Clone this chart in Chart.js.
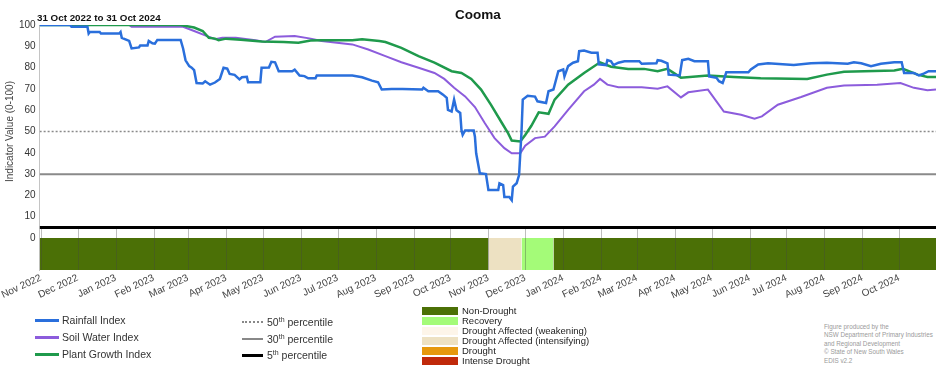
<!DOCTYPE html>
<html>
<head>
<meta charset="utf-8">
<script src="https://cdn.jsdelivr.net/npm/chart.js@4.4.1/dist/chart.umd.min.js"></script>
<style>
  body { margin: 0; background: #fff; font-family: "Liberation Sans", Arial, sans-serif; }
  #wrap { position: relative; width: 952px; height: 370px; overflow: hidden; }
  #chart { position: absolute; left: 0; top: 0; }
  .title { position: absolute; top: 7px; left: 0; width: 956px; text-align: center; font-weight: bold; font-size: 13.5px; color: #111; }
  .sub { position: absolute; top: 12px; left: 37px; font-weight: bold; font-size: 9.8px; color: #111; }
  .leg { position: absolute; font-size: 10.5px; color: #333; }
  .leg .row { position: absolute; left: 0; white-space: nowrap; height: 14px; line-height: 14px; }
  .leg .swatch { position: absolute; left: 0; top: 6px; width: 24px; height: 0; }
  .leg .row span { position: absolute; left: 27px; top: 0; }
  .leg sup { font-size: 7px; line-height: 0; }
  .dleg { position: absolute; left: 422px; top: 306px; font-size: 9.5px; color: #222; }
  .dleg .row { position: absolute; left: 0; height: 10px; line-height: 10px; white-space: nowrap; }
  .dleg .box { position: absolute; left: 0; top: 1px; width: 36px; height: 8px; }
  .dleg .row span { position: absolute; left: 40px; top: 0; }
  .foot { position: absolute; left: 824px; top: 323px; font-size: 6.3px; line-height: 8.4px; color: #9a9a9a; }
</style>
</head>
<body>
<div id="wrap">
  <canvas id="chart" width="952" height="310"></canvas>
  <div class="title">Cooma</div>
  <div class="sub">31 Oct 2022 to 31 Oct 2024</div>

  <div class="leg" style="left:35px; top:313px;">
    <div class="row" style="top:0"><i class="swatch" style="border-top:3px solid #2a6fdc"></i><span>Rainfall Index</span></div>
    <div class="row" style="top:17px"><i class="swatch" style="border-top:3px solid #8c5cdc"></i><span>Soil Water Index</span></div>
    <div class="row" style="top:34px"><i class="swatch" style="border-top:3px solid #1f9a4c"></i><span>Plant Growth Index</span></div>
  </div>
  <div class="leg" style="left:242px; top:315px;">
    <div class="row" style="top:0"><i class="swatch" style="width:21px;border-top:2px dotted #888"></i><span style="left:25px">50<sup>th</sup> percentile</span></div>
    <div class="row" style="top:17px"><i class="swatch" style="width:21px;border-top:2.5px solid #888"></i><span style="left:25px">30<sup>th</sup> percentile</span></div>
    <div class="row" style="top:33px"><i class="swatch" style="width:21px;border-top:3px solid #000"></i><span style="left:25px">5<sup>th</sup> percentile</span></div>
  </div>
  <div class="dleg" id="dleg"></div>
  <div class="foot">Figure produced by the<br>NSW Department of Primary Industries<br>and Regional Development<br>© State of New South Wales<br>EDIS v2.2</div>
</div>

<script>
// days counted from 31 Oct 2022 (day 0) to 31 Oct 2024 (day 731)
const startDate = Date.UTC(2022, 9, 31);
const endDay = 731;

const monthLabels = [
  "Nov 2022","Dec 2022","Jan 2023","Feb 2023","Mar 2023","Apr 2023","May 2023","Jun 2023",
  "Jul 2023","Aug 2023","Sep 2023","Oct 2023","Nov 2023","Dec 2023","Jan 2024","Feb 2024",
  "Mar 2024","Apr 2024","May 2024","Jun 2024","Jul 2024","Aug 2024","Sep 2024","Oct 2024"
];
const yTicks = [0, 10, 20, 30, 40, 50, 60, 70, 80, 90, 100];

// Rainfall Index
const rainDays = [0, 25, 26, 39, 40, 41, 49, 50, 65, 66, 67, 71, 73, 75, 81, 82, 88, 89, 92, 94, 96, 115, 117, 119,
  122, 124, 126, 128, 133, 135, 139, 143, 147, 150, 153, 155, 159, 163, 165, 169, 170, 180, 181, 187, 189, 192,
  195, 206, 208, 212, 216, 219, 225, 226, 249, 255, 263, 271, 276, 279, 287, 296, 312, 313, 317, 325, 329, 332,
  333, 336, 338, 340, 343, 344, 345, 347, 354, 355, 356, 359, 364, 366, 374, 375, 378, 379, 383, 385, 386, 389,
  391, 393, 394, 398, 404, 406, 413, 415, 419, 423, 427, 428, 431, 435, 439, 440, 444, 450, 455, 456, 462, 463,
  466, 468, 472, 477, 489, 491, 503, 504, 507, 512, 513, 522, 524, 529, 534, 545, 546, 552, 554, 557, 558, 560,
  578, 580, 586, 594, 615, 629, 642, 659, 664, 670, 678, 686, 697, 703, 705, 713, 717, 721, 725, 731];
const rainValues = [100, 100, 99.2, 99.2, 96, 96.7, 96.7, 96, 96, 96.7, 94, 93, 92.5, 89, 89.5, 90.4, 90.4, 92.5, 91.4, 91.2, 93, 93, 89, 83.4,
  80.7, 80, 78.8, 72.8, 72.6, 73.6, 72, 73, 74.7, 79.9, 79.5, 77, 76.6, 74.5, 75.5, 75.7, 73.1, 73.1, 79.9, 80, 82.7, 82.5,
  78.3, 78.3, 79, 76.3, 76, 75, 75, 76.3, 76.3, 76.3, 75.5, 73.9, 73.1, 69.7, 70, 70, 69.7, 70.5, 68.9, 68.9, 67.3, 65.8,
  60.2, 59.4, 65, 60, 58.7, 50.8, 48.4, 50.5, 50.5, 47.6, 39.8, 30.4, 30, 22.5, 22.5, 25.7, 24.9, 19.3, 19.3, 17.8, 24.1, 25.7,
  29.6, 50, 65, 66.8, 66.4, 64.2, 63.4, 68.9, 69.7, 78.3, 79.1, 75.9, 80.7, 82.3, 83, 87.7, 88, 87, 87, 81.5, 81.2, 83.5,
  83, 81.2, 82.3, 83, 83, 81.8, 82, 83.5, 83.2, 82, 76.7, 76.3, 83.5, 84.1, 83, 83, 75.9, 75.2, 73.6, 72.8, 74.4, 77.8,
  77.8, 79.1, 81.5, 82, 81.2, 82, 82.3, 81.8, 82.5, 82, 80.7, 81.8, 82.5, 82.5, 77.5, 77.5, 76.3, 77.2, 78.3, 78.3];

// Soil Water Index
const soilDays = [0, 73, 75, 117, 126, 135, 143, 149, 160, 176, 184, 192, 208, 221, 230, 255, 268, 282, 295, 309,
  322, 330, 338, 347, 355, 363, 371, 379, 385, 392, 396, 404, 412, 420, 431, 444, 452, 457, 463, 472, 491, 504,
  512, 523, 529, 545, 558, 572, 583, 589, 602, 621, 642, 656, 683, 702, 713, 724, 731];
const soilValues = [100, 100, 99.2, 99.2, 97.2, 95.1, 93.3, 94, 94, 92.9, 92, 94.5, 94.8, 93.6, 92.5, 90.9, 88.5, 85.4, 82.5, 79.9,
  77.5, 74.7, 70.5, 66.5, 61.5, 54, 46.9, 42.2, 39.8, 39.8, 43.3, 46.9, 47.6, 52.4, 60.2, 68.9, 72, 74.7, 72, 70.8, 70.8, 70.1,
  71.2, 66, 68.4, 69.7, 59.4, 57.9, 56, 57.1, 62.6, 66.2, 70.5, 71.6, 72, 72.8, 70.5, 69.4, 69.7];

// Plant Growth Index
const plantDays = [0, 115, 126, 133, 138, 143, 146, 152, 164, 181, 199, 211, 221, 230, 255, 263, 277, 282, 295, 309,
  322, 336, 344, 352, 360, 368, 377, 382, 385, 392, 396, 401, 407, 415, 420, 431, 444, 457, 466, 480, 493, 504,
  512, 523, 545, 566, 588, 626, 642, 656, 697, 704, 716, 724, 731];
const plantValues = [100, 100, 98.8, 97.2, 94, 93.6, 92.9, 93.6, 93.1, 92.3, 92, 91.7, 92.7, 92.8, 92.8, 93.3, 92.5, 92, 89.3, 85.4,
  82.3, 78.3, 77.5, 74.7, 69.7, 62.6, 54, 49.2, 45.8, 45.3, 48.4, 52.7, 59, 58.3, 65, 72, 77.5, 82.5, 80.4, 79.4, 79.4, 78.3,
  79.4, 75.3, 76.3, 75.6, 75, 74.7, 76.7, 78, 78.6, 79.4, 76.7, 75.6, 75.6];

// percentile reference lines
const percentileNames = ["50th percentile", "30th percentile", "5th percentile"];
const percentileValues = [50, 30, 5];

// drought category band
const droughtCategories = ["Non-Drought", "Recovery", "Drought Affected (weakening)",
  "Drought Affected (intensifying)", "Drought", "Intense Drought"];
const droughtColors = ["#4b7006", "#a4fb78", "#fdf5e9", "#ede1c2", "#e6980c", "#c0290a"];
const bandStart = [0, 366, 393, 419];
const bandEnd = [366, 393, 419, 731];
const bandCategory = ["Non-Drought", "Drought Affected (intensifying)", "Recovery", "Non-Drought"];

// legend for drought categories
const dleg = document.getElementById("dleg");
droughtCategories.forEach((c, i) => {
  const row = document.createElement("div");
  row.className = "row";
  row.style.top = (i * 9.9) + "px";
  row.innerHTML = `<i class="box" style="background:${droughtColors[i]}"></i><span>${c}</span>`;
  dleg.appendChild(row);
});

const monthDays = monthLabels.map((_, i) => (Date.UTC(2022, 10 + i, 1) - startDate) / 86400000);
const pts = (xs, ys) => xs.map((x, i) => ({ x, y: ys[i] }));

const datasets = [
  { label: "Rainfall Index", data: pts(rainDays, rainValues), borderColor: "#2a6fdc", borderWidth: 2.5, order: 1 },
  { label: "Soil Water Index", data: pts(soilDays, soilValues), borderColor: "#8c5cdc", borderWidth: 2, order: 3 },
  { label: "Plant Growth Index", data: pts(plantDays, plantValues), borderColor: "#1f9a4c", borderWidth: 2.5, order: 2 },
];
const pctStyles = [
  { color: "#8a8a8a", width: 1.5, dash: [2, 2] },
  { color: "#8a8a8a", width: 2, dash: [] },
  { color: "#000000", width: 3, dash: [] },
];
percentileValues.forEach((v, i) => {
  datasets.push({
    label: percentileNames[i], data: [{ x: 0, y: v }, { x: endDay, y: v }],
    borderColor: pctStyles[i].color, borderWidth: pctStyles[i].width, borderDash: pctStyles[i].dash, order: 5,
  });
});
bandStart.forEach((s, i) => {
  const col = droughtColors[droughtCategories.indexOf(bandCategory[i])];
  datasets.push({
    label: bandCategory[i], data: [{ x: s, y: 0 }, { x: bandEnd[i], y: 0 }],
    borderWidth: 0, borderColor: col, backgroundColor: col, fill: "start", order: 10,
  });
});

// month grid lines only inside the drought band, plus y axis title
const extras = {
  id: "extras",
  afterDatasetsDraw(chart) {
    const { ctx, chartArea, scales } = chart;
    const top = scales.y.getPixelForValue(5) + 1.5;
    ctx.save();
    ctx.strokeStyle = "rgba(70,70,70,0.35)";
    ctx.lineWidth = 1;
    monthDays.forEach((d) => {
      const x = Math.round(scales.x.getPixelForValue(d)) + 0.5;
      ctx.beginPath();
      ctx.moveTo(x, top);
      ctx.lineTo(x, chartArea.bottom);
      ctx.stroke();
    });
    const cy = (scales.y.getPixelForValue(0) + scales.y.getPixelForValue(100)) / 2;
    ctx.translate(10, cy);
    ctx.rotate(-Math.PI / 2);
    ctx.fillStyle = "#444";
    ctx.font = "10px 'Liberation Sans', Arial, sans-serif";
    ctx.textAlign = "center";
    ctx.textBaseline = "middle";
    ctx.fillText("Indicator Value (0-100)", 0, 0);
    ctx.restore();
  },
};

new Chart(document.getElementById("chart"), {
  type: "line",
  data: { datasets },
  plugins: [extras],
  options: {
    responsive: false,
    animation: false,
    events: [],
    layout: { padding: { top: 25, right: 16, left: 0, bottom: 0 } },
    elements: { point: { radius: 0 }, line: { tension: 0, fill: false } },
    plugins: { legend: { display: false }, tooltip: { enabled: false } },
    scales: {
      x: {
        type: "linear", min: 0, max: endDay,
        afterBuildTicks: (s) => { s.ticks = monthDays.map((v) => ({ value: v })); },
        afterFit: (s) => { s.height = 40; },
        ticks: {
          autoSkip: false, maxRotation: 25, minRotation: 25, padding: 2,
          color: "#444", font: { family: "'Liberation Sans', Arial, sans-serif", size: 10 },
          callback: (v, i) => monthLabels[i],
        },
        grid: { display: false, drawTicks: false },
        border: { display: false },
      },
      y: {
        min: -15, max: 100,
        afterBuildTicks: (s) => { s.ticks = yTicks.map((v) => ({ value: v })); },
        afterFit: (s) => { s.width = 37; },
        ticks: { padding: 4, color: "#333", font: { family: "'Liberation Sans', Arial, sans-serif", size: 10 } },
        grid: { display: false, drawTicks: false },
        border: { display: true, color: "#c4c4c4", width: 1 },
      },
    },
  },
});
</script>
</body>
</html>
